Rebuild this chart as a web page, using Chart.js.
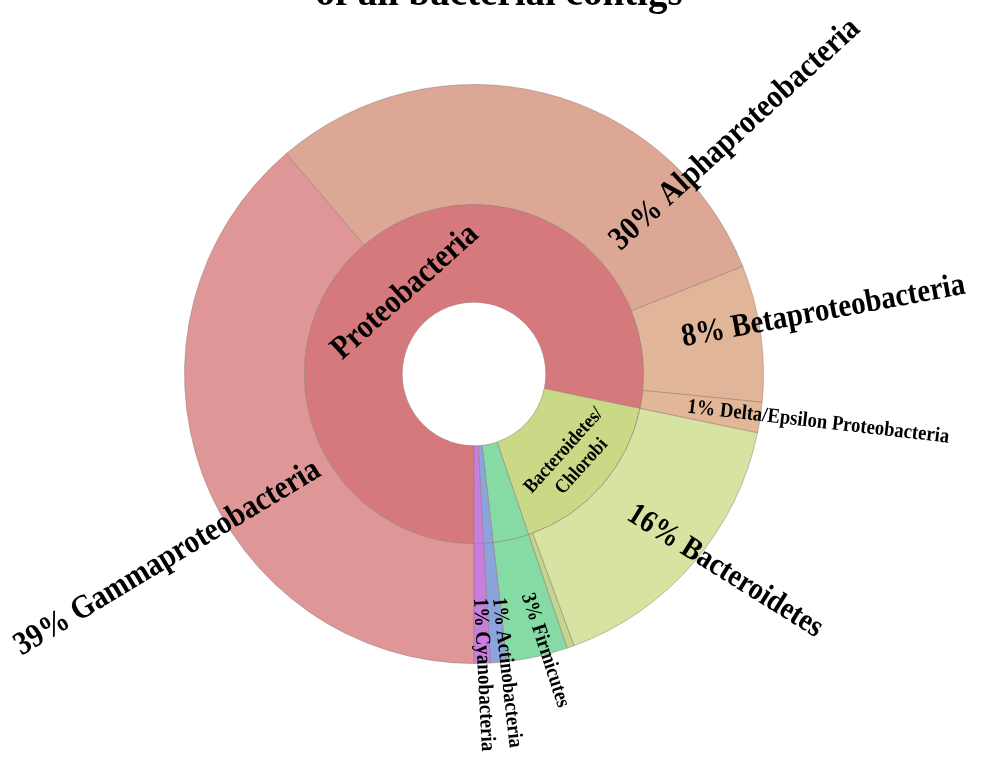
<!DOCTYPE html>
<html>
<head>
<meta charset="utf-8">
<script src="https://cdn.jsdelivr.net/npm/chart.js@4.4.1/dist/chart.umd.min.js"></script>
<style>
  html, body { margin: 0; padding: 0; background: #fff; }
  #wrap { width: 984px; height: 757px; position: relative; }
</style>
</head>
<body>
<div id="wrap"><canvas id="sunburst"></canvas></div>
<script>
// phylum level (inner ring)
const innerLabels = ['Proteobacteria', 'Bacteroidetes/Chlorobi', 'Firmicutes', 'Actinobacteria', 'Cyanobacteria'];
const innerValues = [78.1, 16.5, 3.4, 0.9, 0.9];

// class level (outer ring), same order so the rings line up
const outerLabels = ['Gammaproteobacteria', 'Alphaproteobacteria', 'Betaproteobacteria',
  'Delta/Epsilon Proteobacteria', 'Bacteroidetes', 'Chlorobi', 'Firmicutes',
  'Actinobacteria', 'Cyanobacteria'];
const outerValues = [38.7, 30.1, 7.6, 1.7, 16.1, 0.4, 3.4, 0.9, 0.9];
// percentages as printed on the figure
const outerPercents = ['39%', '30%', '8%', '1%', '16%', '', '3%', '1%', '1%'];

const innerColors = ['#d6797c', '#c9d985', '#86dba4', '#8ca4de', '#c77edc'];
const outerColors = ['#df9697', '#dca895', '#e1b597', '#e2b797', '#d7e3a0', '#c2d690',
  '#86dba4', '#8ca4de', '#c77edc'];

const titleText = 'of all bacterial contigs';

// text placement: ring, slice, clock angle (deg), radius, rotation, align, px
const labelSpots = [
  { ds: 0, i: 0, ang: 239,   r: 182, rot: -31,  align: 'right', size: 33 },
  { ds: 0, i: 1, ang: 47.5,  r: 191, rot: -42.5, align: 'left', size: 33 },
  { ds: 0, i: 2, ang: 80.2,  r: 211, rot: -10.6, align: 'left', size: 32.5 },
  { ds: 0, i: 3, ang: 98.8,  r: 216, rot: 6.6,  align: 'left',  size: 21 },
  { ds: 0, i: 4, ang: 131.5, r: 208, rot: 32,   align: 'left',  size: 31.5 },
  { ds: 0, i: 6, ang: 166.5, r: 226, rot: 72,   align: 'left',  size: 21 },
  { ds: 0, i: 7, ang: 173.8, r: 225, rot: 83.6, align: 'left',  size: 21 },
  { ds: 0, i: 8, ang: 178.6, r: 224, rot: 87,   align: 'left',  size: 21.5 },
  { ds: 1, i: 0, ang: 320,   r: 107, rot: -42,  align: 'center', size: 33 },
  { ds: 1, i: 1, ang: 130.6, r: 130, rot: -48,  align: 'center', size: 20, lh: 24 }
];
const squeeze = 0.89; // the printed lettering is a little condensed

const labelPlugin = {
  id: 'sunLabels',
  afterDatasetsDraw(chart) {
    const ctx = chart.ctx;
    const arc = chart.getDatasetMeta(0).data[0];
    const cx = arc.x, cy = arc.y;
    ctx.save();
    ctx.fillStyle = '#000';
    labelSpots.forEach(s => {
      let lines;
      if (s.ds === 0) {
        lines = [outerPercents[s.i] + ' ' + outerLabels[s.i]];
      } else {
        lines = innerLabels[s.i].includes('/')
          ? innerLabels[s.i].replace('/', '/\n').split('\n')
          : [innerLabels[s.i]];
      }
      const a = (s.ang - 90) * Math.PI / 180;
      ctx.save();
      ctx.translate(cx + s.r * Math.cos(a), cy + s.r * Math.sin(a));
      ctx.rotate(s.rot * Math.PI / 180);
      ctx.scale(squeeze, 1);
      ctx.font = 'bold ' + s.size + 'px "Liberation Serif", "Times New Roman", serif';
      ctx.textAlign = s.align;
      ctx.textBaseline = 'middle';
      const lh = s.lh || s.size;
      lines.forEach((ln, k) => {
        ctx.fillText(ln, 0, (k - (lines.length - 1) / 2) * lh);
      });
      ctx.restore();
    });
    // title, mostly cut off at the top
    ctx.font = 'bold 39px "Liberation Serif", "Times New Roman", serif';
    ctx.textAlign = 'center';
    ctx.textBaseline = 'alphabetic';
    ctx.fillText(titleText, 499, 5);
    ctx.restore();
  }
};

new Chart(document.getElementById('sunburst'), {
  type: 'doughnut',
  data: {
    labels: outerLabels,
    datasets: [
      {
        data: outerValues,
        backgroundColor: outerColors,
        borderColor: 'rgba(150,120,115,0.5)',
        borderWidth: 1,
        weight: 120
      },
      {
        data: innerValues,
        backgroundColor: innerColors,
        borderColor: 'rgba(150,120,115,0.5)',
        borderWidth: 1,
        weight: 98
      }
    ]
  },
  options: {
    responsive: true,
    maintainAspectRatio: false,
    animation: false,
    rotation: 180,
    cutout: '24.8%',
    layout: { padding: { left: 184, right: 220, top: 84, bottom: 93 } },
    plugins: {
      legend: { display: false },
      tooltip: { enabled: false }
    }
  },
  plugins: [labelPlugin]
});
</script>
</body>
</html>
